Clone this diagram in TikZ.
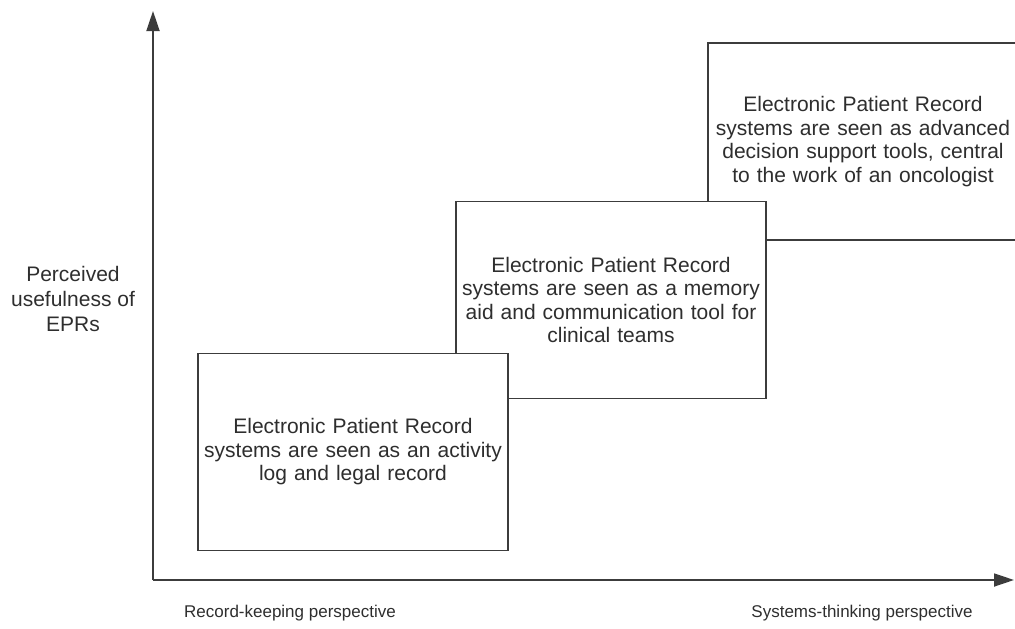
\documentclass[tikz,border=0pt]{standalone}
\usepackage{fontspec}
\setmainfont{Liberation Sans}
\usetikzlibrary{arrows.meta}
\definecolor{linegray}{HTML}{3C3C3C}
\definecolor{textgray}{HTML}{2E2E2E}
\tikzset{
  stagebox/.style={draw=linegray, line width=1.8pt, fill=white, minimum width=310pt,
    minimum height=197pt, text width=300pt, align=center, inner sep=0pt,
    font=\fontsize{21}{23.5}\selectfont, text=textgray},
  axislabel/.style={align=center, text=textgray, font=\fontsize{17}{25}\selectfont}
}
\begin{document}
\begin{tikzpicture}[x=1pt, y=-1pt, >={Triangle[length=20pt,width=13pt]}]
    \useasboundingbox (0,0) rectangle (1015,629);
    \clip (0,0) rectangle (1015,629);
    % stages, back to front
    \node[stagebox] (decision) at (863,141.5) {Electronic Patient Record\\systems are seen as advanced\\decision support tools, central\\to the work of an oncologist};
    \node[stagebox] (memory) at (611,300) {Electronic Patient Record\\systems are seen as a memory\\aid and communication tool for\\clinical teams};
    \node[stagebox] (activity) at (353,452) {Electronic Patient Record\\systems are seen as an activity\\log and legal record};

    \coordinate (origin) at (153,580);
    \coordinate (ytop) at (153,11);
    \coordinate (xend) at (1014,580);
    \draw[->, draw=linegray, fill=linegray, line width=1.8pt] (origin) -- (ytop);
    \draw[->, draw=linegray, fill=linegray, line width=1.8pt] (origin) -- (xend);

    \node[axislabel, font=\fontsize{21}{25}\selectfont] (useful) at (73,299) {Perceived\\usefulness of\\EPRs};
    \node[axislabel] (record) at (290,613) {Record-keeping perspective};
    \node[axislabel] (systems) at (862,613) {Systems-thinking perspective};
\end{tikzpicture}
\end{document}
